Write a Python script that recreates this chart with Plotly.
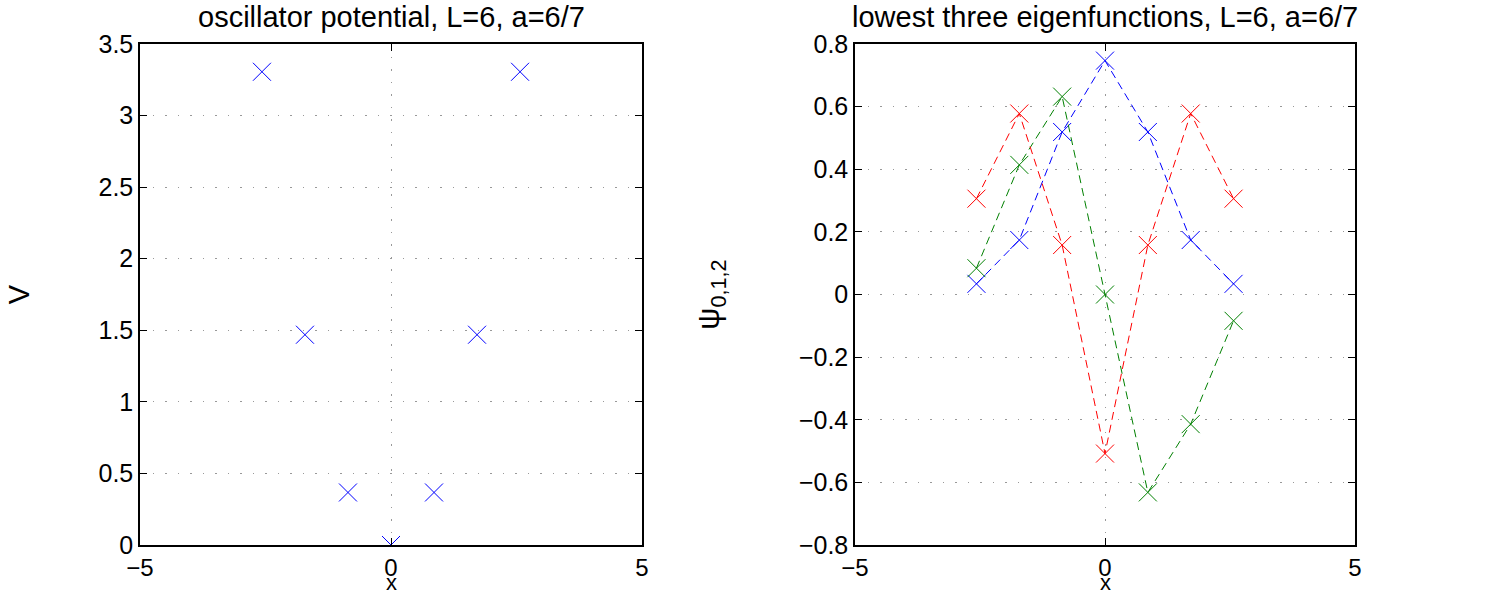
import plotly.graph_objects as go

W, H = 1503, 597

# data
x_pts = [-2.571, -1.714, -0.857, 0.0, 0.857, 1.714, 2.571]
V_vals = [3.306, 1.469, 0.367, 0.0, 0.367, 1.469, 3.306]
psi0 = [0.034, 0.174, 0.519, 0.747, 0.519, 0.174, 0.034]
psi1 = [0.084, 0.414, 0.632, 0.0, -0.632, -0.414, -0.084]
psi2 = [0.306, 0.578, 0.158, -0.508, 0.158, 0.578, 0.306]

title_left = "oscillator potential, L=6, a=6/7"
title_right = "lowest three eigenfunctions, L=6, a=6/7"
xlabel = "x"
ylabel_left = "V"
ylabel_right = "ψ<sub>0,1,2</sub>"

FONT = "Liberation Sans, Arial, sans-serif"
FS = 25
FT = 29

fig = go.Figure()

mk = dict(symbol="x-thin-open", size=18, line=dict(width=1))

fig.add_trace(go.Scatter(x=x_pts, y=V_vals, mode="markers",
                         marker=dict(color="#0000ff", **mk), xaxis="x", yaxis="y",
                         showlegend=False))

for vals, col in [(psi0, "#0000ff"), (psi1, "#008000"), (psi2, "#ff0000")]:
    fig.add_trace(go.Scatter(x=x_pts, y=vals, mode="lines+markers",
                             line=dict(color=col, width=1, dash="8px,5px"),
                             marker=dict(color=col, **mk),
                             xaxis="x2", yaxis="y2", showlegend=False))

xl = [140 / W, 642 / W]
xr = [855 / W, 1355 / W]
yd = [1 - 545 / H, 1 - 44 / H]

common = dict(showline=True, linecolor="black", linewidth=1.5, mirror="allticks",
              ticks="inside", ticklen=7, tickcolor="black",
              showgrid=True, gridcolor="#999999", griddash="1.5px,11px", gridwidth=1.2,
              zeroline=False, automargin=False)
ytf = dict(tickfont=dict(family=FONT, size=FS, color="black"))
xtf = dict(tickfont=dict(family=FONT, size=FS - 1, color="black"))

fig.update_layout(
    width=W, height=H,
    margin=dict(l=0, r=0, t=0, b=0),
    paper_bgcolor="white", plot_bgcolor="white",
    font=dict(family=FONT, size=FS, color="black"),
    xaxis=dict(domain=xl, range=[-5, 5], tickvals=[-5, 0, 5], anchor="y", **common, **xtf),
    yaxis=dict(domain=yd, range=[0, 3.5], dtick=0.5, tick0=0, anchor="x",
               title=dict(text=ylabel_left, standoff=60, font=dict(size=FS + 4)), **common, **ytf),
    xaxis2=dict(domain=xr, range=[-5, 5], tickvals=[-5, 0, 5], anchor="y2", **common, **xtf),
    yaxis2=dict(domain=yd, range=[-0.8, 0.8], dtick=0.2, tick0=0, anchor="x2",
                title=dict(text=ylabel_right, standoff=70, font=dict(size=FS + 6)), **common, **ytf),
    annotations=[
        dict(text=title_left, x=(xl[0] + xl[1]) / 2, y=1 - 17 / H, xref="paper", yref="paper",
             showarrow=False, font=dict(family=FONT, size=FT, color="black"),
             xanchor="center", yanchor="middle"),
        dict(text=title_right, x=(xr[0] + xr[1]) / 2, y=1 - 17 / H, xref="paper", yref="paper",
             showarrow=False, font=dict(family=FONT, size=FT, color="black"),
             xanchor="center", yanchor="middle"),
        dict(text=xlabel, x=(xl[0] + xl[1]) / 2, y=0, xref="paper", yref="paper",
             showarrow=False, font=dict(family=FONT, size=FS - 3, color="black"),
             xanchor="center", yanchor="bottom"),
        dict(text=xlabel, x=(xr[0] + xr[1]) / 2, y=0, xref="paper", yref="paper",
             showarrow=False, font=dict(family=FONT, size=FS - 3, color="black"),
             xanchor="center", yanchor="bottom"),
    ],
)

fig.write_html("out.html")
